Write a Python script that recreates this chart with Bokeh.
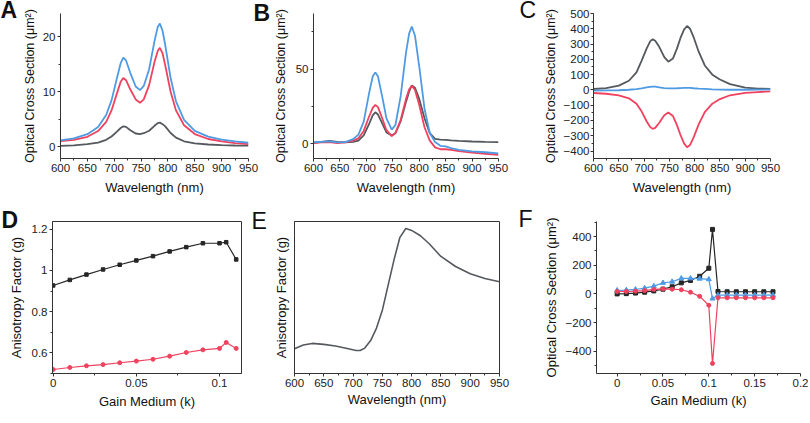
from bokeh.plotting import figure
from bokeh.layouts import column, row
from bokeh.models import Title, Range1d, FixedTicker, SingleIntervalTicker, NumeralTickFormatter
from bokeh.embed import file_html
from bokeh.resources import INLINE

# ---------------- data ----------------
# Panel A
wl_a = [600, 625, 650, 670, 685, 695, 705, 712, 717, 722, 730, 740, 748, 755, 765, 775, 781, 785, 790, 795, 805, 815, 830, 850, 875, 900, 925, 950]
a_blue = [1.16, 1.52, 2.27, 3.6, 5.76, 8.43, 12.44, 15.2, 16.2, 15.7, 13.4, 10.95, 10.3, 11.05, 14.1, 19.2, 21.8, 22.4, 21.1, 18.5, 12.5, 8.26, 4.88, 2.89, 1.82, 1.3, 0.95, 0.72]
a_red = [1.0, 1.25, 1.8, 2.85, 4.5, 6.6, 9.7, 11.8, 12.5, 12.1, 10.4, 8.6, 8.0, 8.6, 11.2, 15.4, 17.4, 18.0, 17.0, 14.8, 10.0, 6.6, 3.9, 2.3, 1.4, 0.95, 0.65, 0.45]
a_gray = [0.15, 0.25, 0.45, 0.75, 1.25, 1.85, 2.75, 3.4, 3.7, 3.6, 3.0, 2.4, 2.3, 2.45, 2.9, 3.8, 4.3, 4.4, 4.1, 3.7, 2.5, 1.65, 0.98, 0.6, 0.4, 0.3, 0.22, 0.18]

# Panel B
wl_b = [600, 615, 630, 645, 660, 675, 685, 695, 705, 712, 717, 722, 730, 738, 748, 755, 765, 775, 781, 786, 792, 800, 810, 820, 830, 840, 850, 860, 875, 900, 925, 950]
b_blue = [0.9, 1.2, 1.5, 0.8, 1.0, 3.0, 6.0, 14.7, 33.5, 45.0, 47.8, 45.0, 31.5, 16.9, 9.4, 12.5, 32.0, 61.0, 74.0, 78.6, 72.4, 51.9, 23.4, 7.0, 1.0, -1.5, -1.8, -3.0, -4.2, -5.2, -5.8, -6.5]
b_red = [0.3, 0.8, 1.0, 0.3, 0.8, 2.0, 3.5, 8.5, 18.0, 24.0, 26.0, 24.5, 17.0, 9.0, 5.0, 7.0, 16.0, 30.0, 36.5, 38.8, 36.0, 26.0, 11.0, 2.0, -2.5, -3.8, -3.8, -4.2, -5.0, -6.0, -6.8, -7.6]
b_gray = [0.5, 1.2, 1.8, 1.2, 0.8, 1.2, 2.0, 5.5, 13.0, 19.0, 21.0, 19.5, 13.5, 7.5, 5.5, 7.0, 15.0, 28.0, 35.0, 39.0, 37.5, 30.0, 17.0, 7.0, 3.2, 2.6, 2.5, 2.2, 1.8, 1.4, 1.1, 1.0]

# Panel C
wl_c = [600, 625, 650, 670, 685, 695, 705, 712, 717, 722, 730, 740, 748, 757, 765, 772, 779, 785, 791, 798, 808, 820, 835, 850, 870, 900, 925, 950]
c_gray = [6, 12, 28, 60, 115, 190, 270, 318, 332, 322, 282, 215, 185, 205, 270, 340, 395, 418, 400, 345, 250, 160, 100, 68, 38, 15, 9, 6]
c_red = [-20, -25, -35, -55, -90, -140, -205, -242, -255, -248, -215, -165, -148, -170, -230, -295, -350, -375, -360, -310, -225, -145, -90, -60, -35, -20, -14, -10]
c_blue = [-4, -3, -2, 1, 5, 10, 16, 20, 22, 21, 17, 12, 10, 10, 11, 12, 13, 13, 13, 11, 9, 7, 4, 2, 1, 1, 2, 3]

# Panel D
k_d = [0, 0.01, 0.02, 0.03, 0.04, 0.05, 0.06, 0.07, 0.08, 0.09, 0.1, 0.104, 0.11]
d_black = [0.927, 0.954, 0.980, 1.005, 1.028, 1.049, 1.070, 1.093, 1.114, 1.133, 1.133, 1.138, 1.054]
d_red = [0.517, 0.527, 0.535, 0.541, 0.550, 0.558, 0.567, 0.582, 0.600, 0.613, 0.620, 0.649, 0.620]

# Panel E
wl_e = [600, 615, 630, 650, 670, 690, 705, 712, 720, 730, 740, 750, 760, 770, 780, 790, 800, 815, 830, 850, 875, 900, 925, 950]
e_g = [0.158, 0.182, 0.192, 0.186, 0.176, 0.160, 0.147, 0.147, 0.162, 0.21, 0.29, 0.404, 0.566, 0.727, 0.869, 0.925, 0.913, 0.879, 0.828, 0.747, 0.683, 0.636, 0.606, 0.586]

# Panel F
k_f = [0, 0.01, 0.02, 0.03, 0.04, 0.05, 0.06, 0.07, 0.08, 0.09, 0.1, 0.104, 0.11, 0.12, 0.13, 0.14, 0.15, 0.16, 0.17]
f_black = [0, 2, 6, 12, 21, 33, 50, 77, 94, 123, 179, 450, 17, 15, 15, 15, 15, 15, 15]
f_blue = [25, 27, 31, 40, 54, 77, 85, 108, 108, 106, 102, -33, -8, -8, -8, -8, -8, -8, -8]
f_red = [17, 17, 19, 23, 31, 35, 33, 29, 12, -17, -79, -485, -27, -27, -27, -27, -27, -27, -27]

wl_ticks = [600, 650, 700, 750, 800, 850, 900, 950]
wl_minor = [625, 675, 725, 775, 825, 875, 925]

# ---------------- styling ----------------
BLUE = "#4f9be3"
RED = "#f0425f"
GRAY = "#55595e"
BLACK = "#262626"
FONT = "Liberation Sans"
YLAB = "Optical Cross Section (\u03bcm\u00b2)"


def make_fig(w, h, L, R, T, B, xr, yr, box=False):
    p = figure(width=w, height=h, x_range=Range1d(*xr), y_range=Range1d(*yr),
               output_backend="svg", toolbar_location=None,
               min_border_left=L, min_border_right=w - R, min_border_top=T,
               min_border_bottom=h - B)
    p.grid.visible = False
    p.outline_line_color = "#333333" if box else None
    p.outline_line_width = 1
    p.background_fill_color = "white"
    p.border_fill_color = "white"
    for ax in p.axis:
        ax.axis_line_color = "#333333"
        ax.major_tick_line_color = "#333333"
        ax.minor_tick_line_color = "#333333"
        ax.major_tick_in = 0
        ax.major_tick_out = 3
        ax.minor_tick_in = 0
        ax.minor_tick_out = 2
        ax.major_label_text_font = FONT
        ax.major_label_text_font_size = "11.5px"
        ax.major_label_text_color = "#222222"
        ax.axis_label_text_font = FONT
        ax.axis_label_text_font_size = "13px"
        ax.axis_label_text_font_style = "normal"
        ax.axis_label_text_color = "#111111"
        ax.major_label_standoff = 2
    return p


def letter(p, text, offset, standoff, bold=True):
    p.add_layout(Title(text=text, align="left", vertical_align="top", offset=offset,
                       standoff=standoff, text_font=FONT, text_font_size="23px",
                       text_font_style="bold" if bold else "normal",
                       text_color="#111111"), "above")


H1 = 202
H2 = 221

# Panel A
pA = make_fig(270, H1, 60, 248, 13, 160, (600, 950), (-2.15, 24.24))
pA.line(wl_a, a_gray, line_width=1.8, color=GRAY)
pA.line(wl_a, a_red, line_width=1.8, color=RED)
pA.line(wl_a, a_blue, line_width=1.8, color=BLUE)
pA.xaxis.ticker = FixedTicker(ticks=wl_ticks, minor_ticks=wl_minor)
pA.yaxis.ticker = SingleIntervalTicker(interval=10, num_minor_ticks=2)
pA.xaxis.axis_label = "Wavelength (nm)"
pA.yaxis.axis_label = YLAB
pA.yaxis.axis_label_text_font_size = "12.5px"
pA.xaxis.axis_label_standoff = 5
pA.yaxis.axis_label_standoff = 3
letter(pA, "A", -60, -33.2, True)
letter(pA, "B", 193, -27.7, True)

# Panel B
pB = make_fig(270, H1, 40, 228, 13, 159, (600, 950), (-10, 87.3))
pB.line(wl_b, b_gray, line_width=1.8, color=GRAY)
pB.line(wl_b, b_red, line_width=1.8, color=RED)
pB.line(wl_b, b_blue, line_width=1.8, color=BLUE)
pB.xaxis.ticker = FixedTicker(ticks=wl_ticks, minor_ticks=wl_minor)
pB.yaxis.ticker = SingleIntervalTicker(interval=50, num_minor_ticks=2)
pB.xaxis.axis_label = "Wavelength (nm)"
pB.yaxis.axis_label = YLAB
pB.yaxis.axis_label_text_font_size = "12.5px"
pB.xaxis.axis_label_standoff = 5
pB.yaxis.axis_label_standoff = 5
letter(pB, "C", 206, -33.2, False)

# Panel C
pC = make_fig(270, H1, 46, 230, 10, 158, (600, 950), (-448.7, 500))
pC.line(wl_c, c_gray, line_width=1.8, color=GRAY)
pC.line(wl_c, c_red, line_width=1.8, color=RED)
pC.line(wl_c, c_blue, line_width=1.8, color=BLUE)
pC.xaxis.ticker = FixedTicker(ticks=wl_ticks, minor_ticks=wl_minor)
pC.yaxis.ticker = SingleIntervalTicker(interval=100, num_minor_ticks=2)
pC.xaxis.axis_label = "Wavelength (nm)"
pC.yaxis.axis_label = YLAB
pC.yaxis.axis_label_text_font_size = "12.5px"
pC.xaxis.axis_label_standoff = 5
pC.yaxis.axis_label_standoff = 3
pC.yaxis.major_label_standoff = 1

# Panel D
pD = make_fig(270, H2, 52, 241, 19, 171, (-0.0004, 0.1132), (0.4976, 1.239), box=True)
pD.line(k_d, d_black, line_width=1.2, color=BLACK)
pD.scatter(k_d, d_black, marker="square", size=3.5, color=BLACK)
pD.line(k_d, d_red, line_width=1.2, color=RED)
pD.scatter(k_d, d_red, marker="circle", size=4, color=RED)
pD.xaxis.ticker = FixedTicker(ticks=[0, 0.05, 0.1], minor_ticks=[0.025, 0.075])
pD.yaxis.ticker = FixedTicker(ticks=[0.6, 0.8, 1.0, 1.2], minor_ticks=[0.5, 0.7, 0.9, 1.1])
pD.xaxis.formatter = NumeralTickFormatter(format="0.[00]")
pD.yaxis.formatter = NumeralTickFormatter(format="0.[0]")
pD.xaxis.axis_label = "Gain Medium (k)"
pD.yaxis.axis_label = "Anisotropy Factor (g)"
pD.xaxis.axis_label_standoff = 4
pD.yaxis.axis_label_standoff = 5
letter(pD, "D", -51, -29.7, True)
letter(pD, "E", 199, -27.7, False)

# Panel E
pE = make_fig(270, H2, 24, 229, 18, 178, (600, 950), (0, 0.970), box=True)
pE.line(wl_e, e_g, line_width=1.6, color=GRAY)
pE.xaxis.ticker = FixedTicker(ticks=wl_ticks, minor_ticks=wl_minor)
pE.yaxis.ticker = FixedTicker(ticks=[], minor_ticks=[])
pE.xaxis.axis_label = "Wavelength (nm)"
pE.yaxis.axis_label = "Anisotropy Factor (g)"
pE.xaxis.axis_label_standoff = 2
pE.yaxis.axis_label_standoff = 6
letter(pE, "F", 224, -31.7, False)

# Panel F
pF = make_fig(270, H2, 52, 260, 11, 181, (-0.0225, 0.2), (-555, 505))
pF.line(k_f, f_black, line_width=1.2, color=BLACK)
pF.scatter(k_f, f_black, marker="square", size=4, color=BLACK)
pF.line(k_f, f_blue, line_width=1.2, color=BLUE)
pF.scatter(k_f, f_blue, marker="triangle", size=5, color=BLUE)
pF.line(k_f, f_red, line_width=1.2, color=RED)
pF.scatter(k_f, f_red, marker="circle", size=4, color=RED)
pF.xaxis.ticker = FixedTicker(ticks=[0, 0.05, 0.1, 0.15, 0.2], minor_ticks=[-0.025, 0.025, 0.075, 0.125, 0.175])
pF.yaxis.ticker = FixedTicker(ticks=[-400, -200, 0, 200, 400], minor_ticks=[-500, -300, -100, 100, 300, 500])
pF.xaxis.formatter = NumeralTickFormatter(format="0.[00]")
pF.xaxis.axis_label = "Gain Medium (k)"
pF.yaxis.axis_label = YLAB
pF.xaxis.axis_label_standoff = 3
pF.yaxis.axis_label_standoff = 4

layout = column(row(pA, pB, pC), row(pD, pE, pF))

with open("out.html", "w") as f:
    f.write(file_html(layout, INLINE))
